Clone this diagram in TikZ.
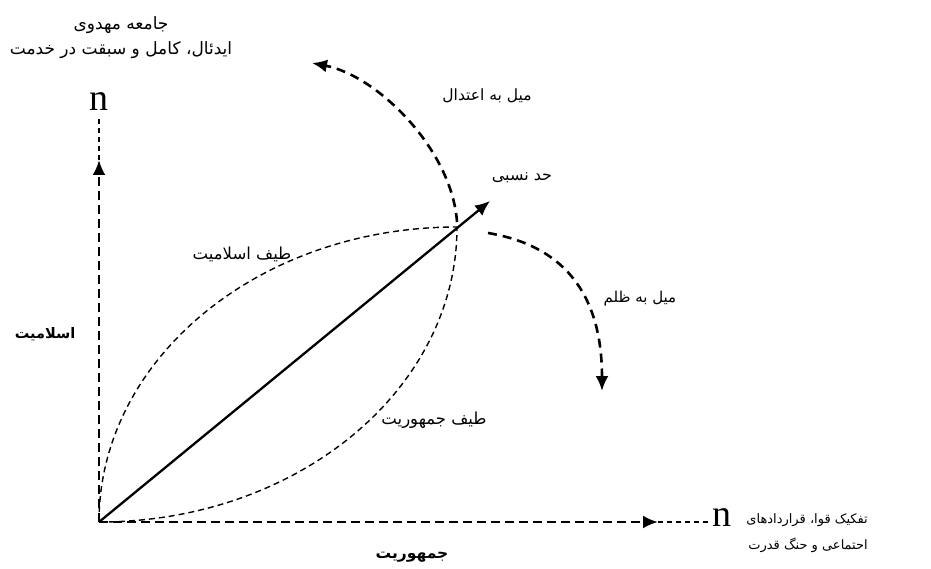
\documentclass[tikz,border=0pt]{standalone}
\usepackage{fontspec}
\usetikzlibrary{arrows.meta}
\TeXXeTstate=1
\newfontfamily\fatext[Script=Arabic]{DejaVu Sans}
\newfontfamily\nserif{Liberation Serif}
\newcommand{\rtltext}[1]{\beginR #1\endR}
\newcommand{\fsz}[1]{\fontsize{#1}{#1}\selectfont}
\begin{document}
\begin{tikzpicture}[x=1pt,y=-1pt,
  axisline/.style={line width=2.6pt, dash pattern=on 9pt off 5pt},
  thinline/.style={line width=1.3pt, dash pattern=on 5pt off 4pt},
  specline/.style={line width=1.4pt, dash pattern=on 6pt off 4pt},
  tendline/.style={line width=2.6pt, dash pattern=on 9pt off 6pt},
  tip/.style={-{Latex[length=15pt,width=13pt]}},
  lab/.style={font=\fatext, inner sep=0pt},
  blab/.style={font=\fatext\bfseries, inner sep=0pt},
  nlab/.style={font=\nserif\fontsize{38}{40}\selectfont, inner sep=0pt}]
\useasboundingbox (0,0) rectangle (931,569);
\fill[white] (0,0) rectangle (931,569);
% coordinates
\coordinate (O) at (99,522);
\coordinate (ytip) at (99,160);
\coordinate (ytop) at (99,119);
\coordinate (xtip) at (658,522);
\coordinate (xend) at (709,522);
\coordinate (X) at (457,227);
\coordinate (rtip) at (490,201);
\coordinate (modstart) at (457,222);
\coordinate (modtip) at (312,63);
\coordinate (zstart) at (488,233);
\coordinate (ztip) at (602,391);
% axes
\draw[axisline, tip] (O) -- (ytip);
\draw[thinline] (ytip) -- (ytop);
\draw[axisline, tip] (O) -- (xtip);
\draw[thinline] (xtip) -- (xend);
% spectra curves
\draw[specline] (O) .. controls (99,359) and (259,227) .. (X);
\draw[specline] (O) .. controls (297,522) and (457,390) .. (X);
% relative limit arrow
\draw[line width=2.3pt, tip] (O) -- (rtip);
% tendencies
\draw[tendline, tip] (modstart) .. controls (452,150) and (378,76) .. (modtip);
\draw[tendline, tip] (zstart) .. controls (560,245) and (602,290) .. (ztip);
% n labels
\node[nlab] (ny) at (99,102) {n};
\node[nlab] (nx) at (722,518) {n};
% texts
\node[lab] (t1) at (121,25) {\fsz{17}\rtltext{جامعه مهدوی}};
\node[lab] (t2) at (121,50) {\fsz{17}\rtltext{ایدئال، کامل و سبقت در خدمت}};
\node[lab] (mod) at (487,96) {\fsz{15.5}\rtltext{میل به اعتدال}};
\node[lab] (had) at (522,178) {\fsz{16}\rtltext{حد نسبی}};
\node[lab] (zol) at (640,299) {\fsz{15}\rtltext{میل به ظلم}};
\node[lab] (tisl) at (242,254) {\fsz{16.5}\rtltext{طیف اسلامیت}};
\node[lab] (tjom) at (434,420) {\fsz{16.5}\rtltext{طیف جمهوریت}};
\node[blab] (jom) at (412,557) {\fsz{15.5}\rtltext{جمهوریت}};
\node[blab] (isl) at (45,334) {\fsz{14.5}\rtltext{اسلامیت}};
\node[lab, anchor=east] (r1) at (868,520) {\fsz{13}\rtltext{تفکیک قوا، قراردادهای}};
\node[lab, anchor=east] (r2) at (868,545) {\fsz{13}\rtltext{احتماعی و حنگ قدرت}};
\end{tikzpicture}
\end{document}
